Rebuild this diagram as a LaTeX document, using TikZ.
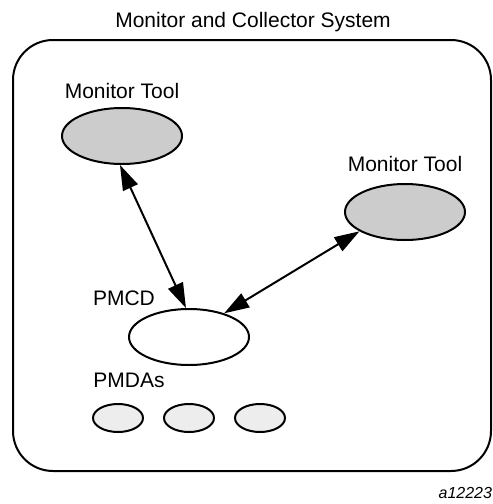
\documentclass[tikz,border=0pt]{standalone}
\usepackage{fontspec}
\setmainfont{Liberation Sans}
\usetikzlibrary{arrows.meta,shapes.geometric,positioning}

\begin{document}
\begin{tikzpicture}[x=1pt,y=-1pt,>={Triangle[length=25pt,width=16pt]},
                    line width=2pt,font=\fontsize{21}{25}\selectfont,
                    main node/.style={ellipse,draw,inner sep=0pt},
                    tool node/.style={main node,fill=black!20,minimum width=120pt,minimum height=56pt},
                    pmcd node/.style={main node,fill=white,minimum width=120pt,minimum height=56pt},
                    pmda node/.style={main node,fill=black!7,minimum width=50pt,minimum height=28pt},
                    label node/.style={anchor=base,inner sep=0pt}]
  \useasboundingbox (0,0) rectangle (493,504);
  \draw[rounded corners=40pt] (13,40) rectangle (491,471);
  \node[label node] (title) at (253,27) {Monitor and Collector System};
  \node[tool node] (1) at (122,136) {};
  \node[tool node] (2) at (405,212) {};
  \node[pmcd node] (3) at (189,337) {};
  \node[pmda node] (4) at (118,418) {};
  \node[pmda node] (5) [right=19pt of 4] {};
  \node[pmda node] (6) [right=19pt of 5] {};
  \node[label node] (t1) [above=7pt of 1] {Monitor Tool};
  \node[label node] (t2) [above=10pt of 2] {Monitor Tool};
  \node[label node] (t3) at (124,305) {PMCD};
  \node[label node] (t4) at (129,387) {PMDAs};
  \node[label node,anchor=base east,font=\fontsize{16}{19}\selectfont\itshape] (fig) at (493,498) {a12223};
  \path
    (1.266) edge [<->] (3.96)
    (2.203) edge [<->] (3.34);
\end{tikzpicture}
\end{document}
